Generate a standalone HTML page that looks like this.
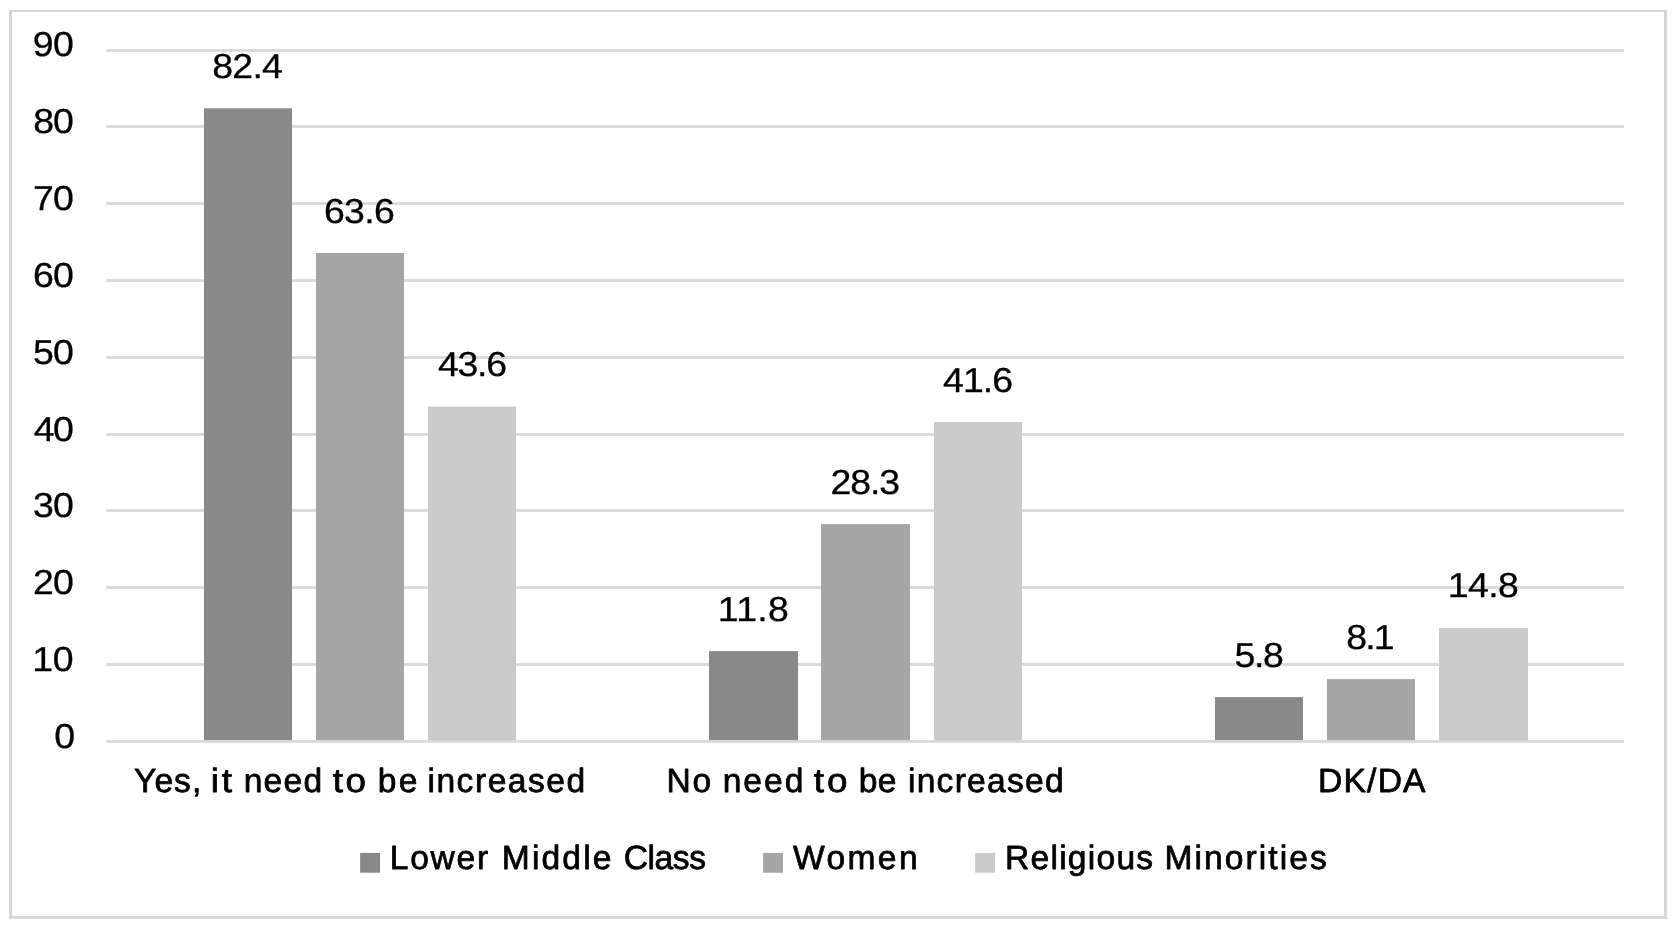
<!DOCTYPE html>
<html lang="en"><head><meta charset="utf-8"><title>Chart</title>
<style>html,body{margin:0;padding:0;background:#fff;}svg{display:block;will-change:transform;}text{font-family:"Liberation Sans",sans-serif;fill:#000;text-rendering:geometricPrecision;}</style></head>
<body>
<svg width="1678" height="928" viewBox="0 0 1678 928">
<rect x="0" y="0" width="1678" height="928" fill="#ffffff"/>
<rect x="9.05" y="10" width="2.95" height="908.9" fill="#d6d6d6"/>
<rect x="9.05" y="10" width="1657.85" height="1.9" fill="#d6d6d6"/>
<rect x="1664.05" y="10" width="2.85" height="908.9" fill="#d6d6d6"/>
<rect x="9.05" y="916.05" width="1657.85" height="2.85" fill="#d6d6d6"/>
<rect x="106.3" y="740.1" width="1517.70" height="2.8" fill="#d9d9d9"/>
<rect x="106.3" y="663.1" width="1517.70" height="2.8" fill="#d9d9d9"/>
<rect x="106.3" y="586.1" width="1517.70" height="2.8" fill="#d9d9d9"/>
<rect x="106.3" y="509.15" width="1517.70" height="2.8" fill="#d9d9d9"/>
<rect x="106.3" y="433.15" width="1517.70" height="2.8" fill="#d9d9d9"/>
<rect x="106.3" y="356.1" width="1517.70" height="2.8" fill="#d9d9d9"/>
<rect x="106.3" y="279.15" width="1517.70" height="2.8" fill="#d9d9d9"/>
<rect x="106.3" y="202.1" width="1517.70" height="2.8" fill="#d9d9d9"/>
<rect x="106.3" y="125.15" width="1517.70" height="2.8" fill="#d9d9d9"/>
<rect x="106.3" y="49.05" width="1517.70" height="2.8" fill="#d9d9d9"/>
<rect x="204" y="108.3" width="88" height="631.80" fill="#898989"/>
<rect x="316" y="253.0" width="88" height="487.10" fill="#a5a5a5"/>
<rect x="428" y="406.6" width="88" height="333.50" fill="#cacaca"/>
<rect x="709" y="651.1" width="89" height="89.00" fill="#898989"/>
<rect x="821" y="524.1" width="89" height="216.00" fill="#a5a5a5"/>
<rect x="934" y="422.1" width="88" height="318.00" fill="#cacaca"/>
<rect x="1215" y="697.1" width="88" height="43.00" fill="#898989"/>
<rect x="1327" y="679.1" width="88" height="61.00" fill="#a5a5a5"/>
<rect x="1439" y="628.0" width="89" height="112.10" fill="#cacaca"/>
<rect x="360.1" y="852.9" width="19.9" height="19.8" fill="#898989"/>
<rect x="763.1" y="852.9" width="19.9" height="19.8" fill="#a5a5a5"/>
<rect x="975.2" y="852.9" width="19.9" height="19.8" fill="#cacaca"/>
<g id="ax0" font-size="34.7" stroke="#000" stroke-width="0.3" stroke-linejoin="round"><text y="747.90" transform="scale(1.08,1)"><tspan id="ax0w" x="50.19">0</tspan> </text></g>
<g id="ax1" font-size="34.7" stroke="#000" stroke-width="0.3" stroke-linejoin="round"><text y="670.90" transform="scale(1.08,1)"><tspan id="ax1w" x="29.83" textLength="38.30" lengthAdjust="spacing">10</tspan> </text></g>
<g id="ax2" font-size="34.7" stroke="#000" stroke-width="0.3" stroke-linejoin="round"><text y="593.90" transform="scale(1.08,1)"><tspan id="ax2w" x="30.61" textLength="37.67" lengthAdjust="spacing">20</tspan> </text></g>
<g id="ax3" font-size="34.7" stroke="#000" stroke-width="0.3" stroke-linejoin="round"><text y="516.90" transform="scale(1.08,1)"><tspan id="ax3w" x="30.67" textLength="37.61" lengthAdjust="spacing">30</tspan> </text></g>
<g id="ax4" font-size="34.7" stroke="#000" stroke-width="0.3" stroke-linejoin="round"><text y="440.90" transform="scale(1.08,1)"><tspan id="ax4w" x="31.17" textLength="37.11" lengthAdjust="spacing">40</tspan> </text></g>
<g id="ax5" font-size="34.7" stroke="#000" stroke-width="0.3" stroke-linejoin="round"><text y="363.90" transform="scale(1.08,1)"><tspan id="ax5w" x="30.56" textLength="37.72" lengthAdjust="spacing">50</tspan> </text></g>
<g id="ax6" font-size="34.7" stroke="#000" stroke-width="0.3" stroke-linejoin="round"><text y="286.90" transform="scale(1.08,1)"><tspan id="ax6w" x="30.56" textLength="37.72" lengthAdjust="spacing">60</tspan> </text></g>
<g id="ax7" font-size="34.7" stroke="#000" stroke-width="0.3" stroke-linejoin="round"><text y="209.90" transform="scale(1.08,1)"><tspan id="ax7w" x="30.53" textLength="37.74" lengthAdjust="spacing">70</tspan> </text></g>
<g id="ax8" font-size="34.7" stroke="#000" stroke-width="0.3" stroke-linejoin="round"><text y="132.90" transform="scale(1.08,1)"><tspan id="ax8w" x="30.73" textLength="37.55" lengthAdjust="spacing">80</tspan> </text></g>
<g id="ax9" font-size="34.7" stroke="#000" stroke-width="0.3" stroke-linejoin="round"><text y="55.90" transform="scale(1.08,1)"><tspan id="ax9w" x="30.36" textLength="37.92" lengthAdjust="spacing">90</tspan> </text></g>
<g id="c0" font-size="33.6" stroke="#000" stroke-width="0.75" stroke-linejoin="round"><text y="791.90"><tspan id="c0a" x="134.11" textLength="67.15" lengthAdjust="spacing">Yes,</tspan> </text><text y="791.90" transform="scale(1.1,1)"><tspan id="c0b" x="191.63" textLength="19.26" lengthAdjust="spacing">it</tspan> </text><text y="791.90"><tspan id="c0c" x="243.65" textLength="78.55" lengthAdjust="spacing">need</tspan> </text><text y="791.90" transform="scale(1.1,1)"><tspan id="c0d" x="302.41" textLength="30.37" lengthAdjust="spacing">to</tspan> </text><text y="791.90"><tspan id="c0e" x="377.63" textLength="39.93" lengthAdjust="spacing">be</tspan> </text><text y="791.90"><tspan id="c0f" x="427.43" textLength="157.83" lengthAdjust="spacing">increased</tspan> </text></g>
<g id="c1" font-size="33.6" stroke="#000" stroke-width="0.75" stroke-linejoin="round"><text y="791.90"><tspan id="c1a" x="666.58" textLength="44.70" lengthAdjust="spacing">No</tspan> </text><text y="791.90"><tspan id="c1b" x="722.65" textLength="80.67" lengthAdjust="spacing">need</tspan> </text><text y="791.90" transform="scale(1.1,1)"><tspan id="c1c" x="739.68" textLength="30.73" lengthAdjust="spacing">to</tspan> </text><text y="791.90"><tspan id="c1d" x="858.63" textLength="37.88" lengthAdjust="spacing">be</tspan> </text><text y="791.90"><tspan id="c1e" x="907.95" textLength="155.69" lengthAdjust="spacing">increased</tspan> </text></g>
<g id="c2" font-size="33.6" stroke="#000" stroke-width="0.75" stroke-linejoin="round"><text y="791.90"><tspan id="c2a" x="1318.04" textLength="107.48" lengthAdjust="spacing">DK/DA</tspan> </text></g>
<g id="l0" font-size="33.6" stroke="#000" stroke-width="0.75" stroke-linejoin="round"><text y="868.90"><tspan id="l0a" x="389.81" textLength="98.27" lengthAdjust="spacing">Lower</tspan> </text><text y="868.90"><tspan id="l0b" x="501.81" textLength="109.68" lengthAdjust="spacing">Middle</tspan> </text><text y="868.90"><tspan id="l0c" x="623.76" textLength="82.18" lengthAdjust="spacing">Class</tspan> </text></g>
<g id="l1" font-size="33.6" stroke="#000" stroke-width="0.75" stroke-linejoin="round"><text y="868.90"><tspan id="l1a" x="793.08" textLength="124.49" lengthAdjust="spacing">Women</tspan> </text></g>
<g id="l2" font-size="33.6" stroke="#000" stroke-width="0.75" stroke-linejoin="round"><text y="868.90"><tspan id="l2a" x="1005.04" textLength="148.07" lengthAdjust="spacing">Religious</tspan> </text><text y="868.90"><tspan id="l2b" x="1164.44" textLength="162.35" lengthAdjust="spacing">Minorities</tspan> </text></g>
<g id="d00" font-size="34.7" stroke="#000" stroke-width="0.3" stroke-linejoin="round"><text y="77.90" transform="scale(1.08,1)"><tspan id="d00w" x="196.47" textLength="65.51" lengthAdjust="spacing">82.4</tspan> </text></g>
<g id="d01" font-size="34.7" stroke="#000" stroke-width="0.3" stroke-linejoin="round"><text y="222.90" transform="scale(1.08,1)"><tspan id="d01w" x="299.92" textLength="65.79" lengthAdjust="spacing">63.6</tspan> </text></g>
<g id="d02" font-size="34.7" stroke="#000" stroke-width="0.3" stroke-linejoin="round"><text y="375.90" transform="scale(1.08,1)"><tspan id="d02w" x="405.50" textLength="63.98" lengthAdjust="spacing">43.6</tspan> </text></g>
<g id="d10" font-size="34.7" stroke="#000" stroke-width="0.3" stroke-linejoin="round"><text y="620.90" transform="scale(1.08,1)"><tspan id="d10w" x="664.64" textLength="65.73" lengthAdjust="spacing">11.8</tspan> </text></g>
<g id="d11" font-size="34.7" stroke="#000" stroke-width="0.3" stroke-linejoin="round"><text y="493.90" transform="scale(1.08,1)"><tspan id="d11w" x="769.06" textLength="64.29" lengthAdjust="spacing">28.3</tspan> </text></g>
<g id="d12" font-size="34.7" stroke="#000" stroke-width="0.3" stroke-linejoin="round"><text y="391.90" transform="scale(1.08,1)"><tspan id="d12w" x="873.24" textLength="64.76" lengthAdjust="spacing">41.6</tspan> </text></g>
<g id="d20" font-size="34.7" stroke="#000" stroke-width="0.3" stroke-linejoin="round"><text y="666.90" transform="scale(1.08,1)"><tspan id="d20w" x="1143.06" textLength="45.60" lengthAdjust="spacing">5.8</tspan> </text></g>
<g id="d21" font-size="34.7" stroke="#000" stroke-width="0.3" stroke-linejoin="round"><text y="648.90" transform="scale(1.08,1)"><tspan id="d21w" x="1246.43" textLength="44.97" lengthAdjust="spacing">8.1</tspan> </text></g>
<g id="d22" font-size="34.7" stroke="#000" stroke-width="0.3" stroke-linejoin="round"><text y="596.90" transform="scale(1.08,1)"><tspan id="d22w" x="1340.57" textLength="65.73" lengthAdjust="spacing">14.8</tspan> </text></g>
</svg></body></html>
